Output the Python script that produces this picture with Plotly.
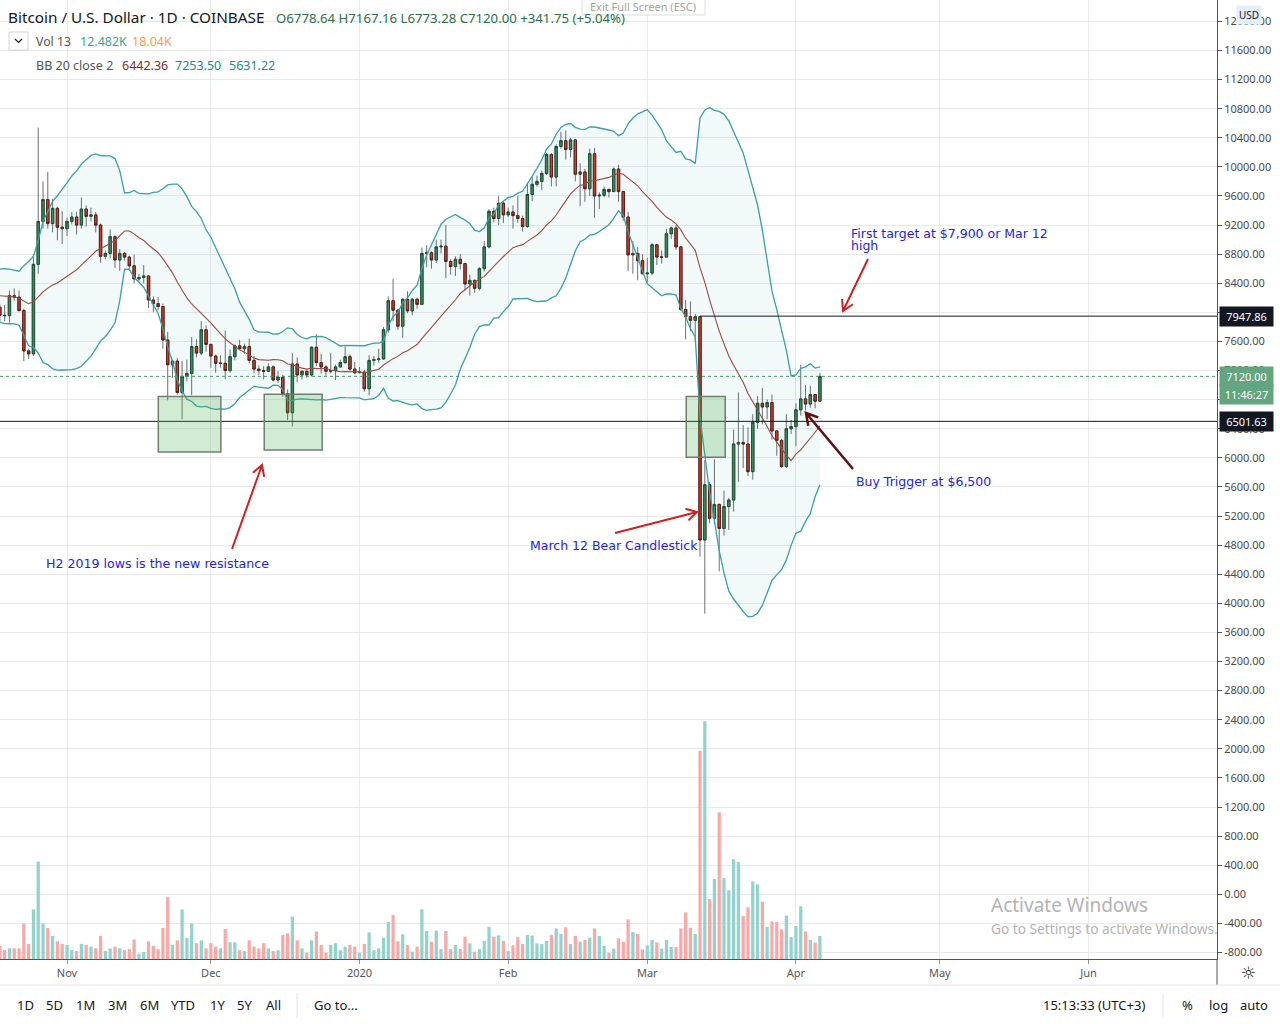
import math
import numpy as np
import pandas as pd
import plotly.graph_objects as go

# ---------------- data (BTC/USD daily, Coinbase) ----------------
dates = pd.date_range("2019-10-18", "2020-04-06", freq="D")

# closes before the first visible day (Sep 29 - Oct 17), used only to warm up the 20-day bands
pre_close = [8050, 8300, 8340, 8390, 8240, 8160, 8150, 7870, 8210, 8180,
             8590, 8590, 8270, 8340, 8300, 8370, 8160, 8000, 8080]

open_ = [
    8070, 7960, 7955, 8230, 8210, 8025, 7470, 7430, 8660, 9250, 9550, 9220, 9430, 9170,
    9150, 9250, 9310, 9200, 9420, 9320, 9340, 9200, 8770, 8810, 9040, 8720, 8810, 8760, 8640,
    8460, 8480, 8500, 8170, 8120, 8080, 7620, 7280, 7330, 6900, 7120, 7160, 7530, 7440, 7760,
    7560, 7400, 7300, 7300, 7200, 7390, 7540, 7500, 7530, 7340, 7220, 7200, 7190, 7250, 7070,
    7110, 6880, 6620, 7290, 7140, 7190, 7140, 7520, 7310, 7250, 7190, 7200, 7250, 7310, 7390, 7220,
    7170, 7180, 6950, 7340, 7350, 7360, 7760, 8160, 8030, 7810, 8180, 8020, 8180, 8110, 8810,
    8820, 8720, 8900, 8910, 8700, 8630, 8730, 8670, 8390, 8440, 8330, 8600, 8900, 9390, 9290, 9500,
    9340, 9380, 9330, 9290, 9180, 9620, 9760, 9800, 9910, 10170, 9860, 10280, 10360, 10240, 10370,
    9900, 9930, 9700, 10180, 9600, 9610, 9690, 9660, 9970, 9660, 9310, 8790, 8810, 8710,
    8530, 8540, 8930, 8760, 8760, 9080, 9160, 8900, 8040, 7940, 7890, 7940, 4870, 5630, 5170,
    5360, 5030, 5330, 5420, 6190, 6210, 6190, 5810, 6490, 6750, 6700, 6760, 6370, 6240, 5880, 6400,
    6430, 6660, 6810, 6740, 6870, 6778.64]

high = [
    8110, 8100, 8300, 8330, 8300, 8050, 7500, 8800, 10540, 9800, 9930, 9560, 9450, 9390,
    9300, 9380, 9380, 9580, 9470, 9440, 9380, 9220, 8850, 9140, 9060, 8870, 8830, 8780, 8790,
    8530, 8650, 8510, 8220, 8210, 8120, 7730, 7350, 7370, 7330, 7350, 7660, 7630, 7880, 7820,
    7560, 7420, 7410, 7750, 7490, 7560, 7620, 7570, 7640, 7400, 7270, 7260, 7300, 7270, 7190,
    7140, 6940, 7440, 7380, 7200, 7200, 7530, 7700, 7430, 7270, 7440, 7280, 7350, 7530, 7420, 7320,
    7250, 7210, 7410, 7400, 7500, 7800, 8220, 8460, 8050, 8190, 8290, 8200, 8200, 8890, 8920,
    8840, 9000, 9000, 9200, 8730, 8770, 8800, 8680, 8520, 8450, 8620, 8980, 9420, 9440, 9600, 9530,
    9440, 9470, 9600, 9330, 9780, 9860, 9880, 9950, 10190, 10190, 10310, 10480, 10500, 10400, 10380,
    10050, 9970, 10250, 10260, 9650, 9730, 9700, 9990, 10030, 9660, 9380, 8980, 8900, 8800,
    8750, 8950, 8940, 8850, 9150, 9180, 9200, 8900, 8170, 8150, 7980, 7950, 5970, 5670, 5980,
    5370, 5550, 5450, 6390, 6900, 6450, 6420, 6600, 6850, 6960, 6800, 6870, 6370, 6260, 6600, 6520,
    6750, 7280, 7000, 6990, 6880, 7167.16]

low = [
    7850, 7880, 7860, 8160, 8010, 7330, 7360, 7400, 8530, 9150, 9150, 9100, 8990, 8940,
    9050, 9210, 9070, 9150, 9180, 9250, 9100, 8680, 8730, 8740, 8610, 8570, 8710, 8570, 8400,
    8430, 8400, 8060, 8000, 8030, 7500, 6790, 7100, 6870, 6530, 7050, 6860, 7380, 7410, 7460,
    7240, 7170, 7240, 7080, 7170, 7340, 7490, 7430, 7300, 7160, 7140, 7080, 7180, 7050, 7030,
    6840, 6520, 6430, 7040, 7080, 7100, 7120, 7260, 7160, 7130, 7160, 7070, 7240, 7290, 7200, 7150,
    7170, 6910, 6860, 7270, 7310, 7350, 7720, 7880, 7760, 7650, 7990, 7960, 8050, 8100, 8620,
    8600, 8680, 8810, 8470, 8520, 8500, 8590, 8300, 8230, 8270, 8300, 8560, 8880, 9240, 9200, 9230,
    9310, 9150, 9230, 9110, 9160, 9530, 9730, 9680, 9890, 9730, 9730, 10250, 10100, 10130, 9800,
    9460, 9520, 9600, 9300, 9420, 9580, 9580, 9660, 9520, 9260, 8570, 8530, 8440, 8530,
    8410, 8510, 8650, 8670, 8760, 9010, 8860, 8020, 7630, 7740, 7590, 4640, 3860, 5100, 5090,
    4440, 4930, 5010, 5260, 5670, 5860, 5750, 5700, 6400, 6460, 6530, 6250, 6030, 5860, 5860, 6330,
    6160, 6580, 6650, 6690, 6680, 6773.28]

close = [
    7960, 7955, 8230, 8210, 8025, 7470, 7430, 8660, 9250, 9550, 9220, 9430, 9170, 9150,
    9250, 9310, 9200, 9420, 9320, 9340, 9200, 8770, 8810, 9040, 8720, 8810, 8760, 8640, 8460,
    8480, 8500, 8170, 8120, 8080, 7620, 7280, 7330, 6900, 7120, 7160, 7530, 7440, 7760, 7560,
    7400, 7300, 7300, 7200, 7390, 7540, 7500, 7530, 7340, 7220, 7200, 7190, 7250, 7070, 7110,
    6880, 6620, 7290, 7140, 7190, 7140, 7520, 7310, 7250, 7190, 7200, 7250, 7310, 7390, 7220, 7170,
    7180, 6950, 7340, 7350, 7360, 7760, 8160, 8030, 7810, 8180, 8020, 8180, 8110, 8810, 8820,
    8720, 8900, 8910, 8700, 8630, 8730, 8670, 8390, 8440, 8330, 8600, 8900, 9390, 9290, 9500, 9340,
    9380, 9330, 9290, 9180, 9620, 9760, 9800, 9910, 10170, 9860, 10280, 10360, 10240, 10370, 9900,
    9930, 9700, 10180, 9600, 9610, 9690, 9660, 9970, 9660, 9310, 8790, 8810, 8710, 8530,
    8540, 8930, 8760, 8760, 9080, 9160, 8900, 8040, 7940, 7890, 7940, 4870, 5630, 5170, 5360,
    5030, 5330, 5420, 6190, 6210, 6190, 5810, 6490, 6750, 6700, 6760, 6370, 6240, 5880, 6400, 6430,
    6660, 6810, 6740, 6870, 6778.64, 7120.00]

# volume in thousands of BTC
volume_k = [
    7.0, 4.8, 5.8, 5.8, 5.8, 19.2, 8.2, 26.9, 52.8, 19.2, 16.8, 12.5, 9.6, 8.2,
    7.7, 4.8, 4.3, 8.2, 7.7, 6.7, 5.8, 12.5, 4.3, 5.8, 6.7, 5.8, 4.8, 5.3, 10.6,
    2.9, 3.8, 9.6, 7.2, 5.3, 16.8, 33.6, 7.7, 10.1, 26.9, 11.5, 19.2, 8.6, 10.1, 5.8,
    8.6, 6.7, 5.8, 16.3, 9.1, 9.1, 4.8, 4.3, 10.1, 6.7, 5.8, 8.6, 5.8, 4.3, 4.8,
    13.0, 13.9, 23.0, 10.1, 5.8, 3.4, 10.1, 14.9, 7.7, 3.4, 7.7, 8.6, 4.8, 6.7, 7.7, 6.7,
    3.4, 8.2, 14.4, 4.8, 5.8, 11.5, 20.2, 24.0, 9.6, 13.4, 7.6, 4.0, 6.7, 26.9, 15.2,
    9.4, 15.4, 5.4, 15.2, 5.4, 7.6, 5.4, 12.1, 8.5, 4.0, 5.4, 9.8, 17.4, 12.1, 12.8, 9.8,
    4.3, 7.4, 11.8, 8.1, 13.0, 12.7, 8.5, 8.1, 9.8, 13.0, 16.6, 13.6, 17.2, 8.1, 12.5,
    9.4, 10.3, 11.6, 16.6, 12.5, 7.1, 3.4, 5.6, 11.2, 9.4, 21.5, 14.6, 13.6, 5.2,
    7.4, 10.3, 9.0, 5.6, 10.3, 6.5, 6.5, 16.6, 25.3, 17.0, 13.6, 113.0, 129.0, 32.5, 43.4,
    79.6, 43.9, 37.3, 54.2, 52.6, 23.3, 28.0, 42.1, 40.5, 31.1, 17.4, 20.4, 20.1, 16.1, 23.5, 11.9,
    17.9, 28.6, 15.0, 10.3, 8.9, 12.482]

price_ticks = list(range(-800, 12001, 400))
month_ticks = ["2019-11-01", "2019-12-01", "2020-01-01", "2020-02-01",
               "2020-03-01", "2020-04-01", "2020-05-01", "2020-06-01"]
month_labels = ["Nov", "Dec", "2020", "Feb", "Mar", "Apr", "May", "Jun"]

resistance_level = 7947.86
support_level = 6501.63
last_price = 7120.00

# ---------------- indicators ----------------
closes_all = pd.Series(pre_close + close, dtype=float)
n0 = len(pre_close)
basis = closes_all.rolling(20).mean().iloc[n0:].values
sd = closes_all.rolling(20).std(ddof=0).iloc[n0:].values
upper = basis + 2 * sd
lower = basis - 2 * sd

body_hi = [max(o, c) for o, c in zip(open_, close)]
body_lo = [min(o, c) for o, c in zip(open_, close)]
vol_colors = ["#94d3cc" if c >= o else "#f7a9a8" for o, c in zip(open_, close)]

# ---------------- geometry helpers (pixel -> paper) ----------------
W, H = 1217.0, 959.0
def px(x): return x / W
def py(y): return 1 - y / H

fig = go.Figure()

# Bollinger bands
fig.add_trace(go.Scatter(x=dates, y=upper, mode="lines", line=dict(color="#3aa0a0", width=1.3),
                         hoverinfo="skip"))
fig.add_trace(go.Scatter(x=dates, y=lower, mode="lines", line=dict(color="#3aa0a0", width=1.3),
                         fill="tonexty", fillcolor="rgba(40,150,150,0.06)", hoverinfo="skip"))
fig.add_trace(go.Scatter(x=dates, y=basis, mode="lines", line=dict(color="#9c4a45", width=1.1),
                         hoverinfo="skip"))

# candle wicks
fig.add_trace(go.Candlestick(x=dates, open=open_, high=high, low=low, close=close,
                             increasing=dict(line=dict(color="#6e6e70", width=1), fillcolor="#3d8b5c"),
                             decreasing=dict(line=dict(color="#6e6e70", width=1), fillcolor="#d63b2b"),
                             hoverinfo="skip"))
# candle bodies
fig.add_trace(go.Candlestick(x=dates, open=open_, high=body_hi, low=body_lo, close=close,
                             increasing=dict(line=dict(color="#1d4d2e", width=1), fillcolor="#3f8d5e"),
                             decreasing=dict(line=dict(color="#5a1a12", width=1), fillcolor="#d63b2b"),
                             hoverinfo="skip"))

# volume
fig.add_trace(go.Bar(x=dates, y=volume_k, yaxis="y2", marker=dict(color=vol_colors, line=dict(width=0)),
                     width=0.68 * 86400000, hoverinfo="skip"))

fig.update_layout(
    width=1280, height=1024,
    margin=dict(l=0, r=63, t=0, b=65),
    paper_bgcolor="white", plot_bgcolor="white",
    showlegend=False, hovermode=False,
    font=dict(family="Noto Sans", color="#131722"),
    xaxis=dict(type="date", range=["2019-10-18 00:43", "2020-06-27 19:12"],
               rangeslider=dict(visible=False),
               tickvals=month_ticks, ticktext=month_labels,
               showgrid=True, gridcolor="#e9e9ec", gridwidth=1,
               ticks="outside", ticklen=4, tickcolor="#9598a1",
               tickfont=dict(size=11, color="#555"),
               showline=True, linecolor="#50535e", linewidth=1, zeroline=False, fixedrange=True),
    yaxis=dict(side="right", range=[-889.5, 12294],
               tickvals=price_ticks, ticktext=[f"{v:.2f}" for v in price_ticks],
               showgrid=True, gridcolor="#e9e9ec", gridwidth=1,
               ticks="outside", ticklen=4, tickcolor="#50535e",
               tickfont=dict(size=11, color="#4a4a4a"),
               showline=True, linecolor="#50535e", linewidth=1, zeroline=False, fixedrange=True),
    yaxis2=dict(overlaying="y", range=[0, 959 / 1.843], visible=False, fixedrange=True),
)

# ---------------- shapes ----------------
shapes = []
# level lines
shapes.append(dict(type="line", xref="x", yref="y", x0="2020-03-12", x1="2020-08-01",
                   y0=resistance_level, y1=resistance_level, line=dict(color="#131722", width=1)))
shapes.append(dict(type="line", xref="paper", yref="y", x0=0, x1=1,
                   y0=support_level, y1=support_level, line=dict(color="#131722", width=1)))
shapes.append(dict(type="line", xref="paper", yref="y", x0=0, x1=1,
                   y0=last_price, y1=last_price, line=dict(color="#4c9a6a", width=1, dash="dot")))
# green zones
for x0, x1, y0, y1 in [("2019-11-20 01:00", "2019-12-03 02:00", 6081, 6843),
                       ("2019-12-12 03:00", "2019-12-24 05:00", 6108, 6874),
                       ("2020-03-09 03:00", "2020-03-17 06:00", 6008, 6843)]:
    shapes.append(dict(type="rect", xref="x", yref="y", x0=x0, x1=x1, y0=y0, y1=y1,
                       fillcolor="rgba(76,175,80,0.25)", line=dict(color="#6f7f6f", width=1.5),
                       layer="above"))

def arrow(tail, head, color, width, L=12, ang=30):
    tx, ty = tail
    hx, hy = head
    dx, dy = tx - hx, ty - hy
    n = math.hypot(dx, dy)
    ux, uy = dx / n, dy / n
    a = math.radians(ang)
    pts = []
    for s in (1, -1):
        rx = ux * math.cos(s * a) - uy * math.sin(s * a)
        ry = ux * math.sin(s * a) + uy * math.cos(s * a)
        pts.append((hx + L * rx, hy + L * ry))
    path = (f"M {px(tx)},{py(ty)} L {px(hx)},{py(hy)} "
            f"M {px(pts[0][0])},{py(pts[0][1])} L {px(hx)},{py(hy)} L {px(pts[1][0])},{py(pts[1][1])}")
    return dict(type="path", xref="paper", yref="paper", path=path,
                line=dict(color=color, width=width), layer="above")

shapes.append(arrow((232, 549), (262, 465), "#cc2222", 2))
shapes.append(arrow((615, 533), (697, 512), "#cc2222", 2))
shapes.append(arrow((868, 259), (843, 311), "#cc2222", 2))
shapes.append(arrow((853, 469), (806, 413), "#5c1010", 2.5, L=13))

# frame pieces outside the plot
shapes.append(dict(type="line", xref="paper", yref="paper", x0=1, x1=1, y0=py(959), y1=py(985),
                   line=dict(color="#50535e", width=1)))
shapes.append(dict(type="line", xref="paper", yref="paper", x0=0, x1=px(1280), y0=py(985), y1=py(985),
                   line=dict(color="#e0e3eb", width=1)))
for sx in (297, 1163):
    shapes.append(dict(type="line", xref="paper", yref="paper", x0=px(sx), x1=px(sx),
                       y0=py(993), y1=py(1018), line=dict(color="#e0e3eb", width=1)))
# legend chevron box
shapes.append(dict(type="rect", xref="paper", yref="paper", x0=px(9), x1=px(28), y0=py(32), y1=py(50),
                   line=dict(color="#d1d4dc", width=1), fillcolor="white"))
shapes.append(dict(type="path", xref="paper", yref="paper",
                   path=f"M {px(15)},{py(39)} L {px(18.5)},{py(42.5)} L {px(22)},{py(39)}",
                   line=dict(color="#131722", width=1.2)))
# exit full screen box
shapes.append(dict(type="rect", xref="paper", yref="paper", x0=px(582), x1=px(705), y0=py(-2), y1=py(15),
                   line=dict(color="#dcdcdc", width=1), fillcolor="rgba(255,255,255,0.9)"))
fig.update_layout(shapes=shapes)

# ---------------- texts ----------------
def txt(x, y, s, size, color, family="Noto Sans", xanchor="left", **kw):
    fig.add_annotation(x=px(x), y=py(y), xref="paper", yref="paper", text=s, showarrow=False,
                       xanchor=xanchor, yanchor="middle", font=dict(size=size, color=color, family=family),
                       **kw)

txt(6, 17, "Bitcoin / U.S. Dollar · 1D · COINBASE", 15.3, "#131722")
txt(274, 18, "O6778.64 H7167.16 L6773.28 C7120.00 +341.75 (+5.04%)", 13.2, "#2f6f4a")
txt(34, 41, "Vol 13", 12.3, "#555555")
txt(78, 41, "12.482K", 12.5, "#3aa68a")
txt(130, 41, "18.04K", 12.5, "#ff9850")
txt(34, 65, "BB 20 close 2", 12.5, "#555555")
txt(120, 65, "6442.36", 12.5, "#8a2b2b")
txt(173, 65, "7253.50", 12.5, "#1a8a8a")
txt(227, 65, "5631.22", 12.5, "#1a8a8a")
txt(643, 7, "Exit Full Screen (ESC)", 11, "#a3a3a3", xanchor="center")

blue = "#2424e0"
txt(44, 563, "H2 2019 lows is the new resistance", 12.6, blue, family="DejaVu Sans")
txt(528, 545, "March 12 Bear Candlestick", 12.5, blue, family="DejaVu Sans")
txt(849, 233, "First target at $7,900 or Mar 12", 12.5, blue, family="DejaVu Sans")
txt(849, 245, "high", 12.5, blue, family="DejaVu Sans")
txt(854, 481, "Buy Trigger at $6,500", 12.5, blue, family="DejaVu Sans")

txt(989, 905, "Activate Windows", 19, "#b3b3b3")
txt(989, 928, "Go to Settings to activate Windows.", 13.7, "#b3b3b3")

# price axis labels
def price_box(y, s, bg):
    fig.add_annotation(x=px(1219), y=py(y), xref="paper", yref="paper", text=s, showarrow=False,
                       xanchor="left", yanchor="middle", bgcolor=bg, borderpad=2, width=49,
                       align="center", font=dict(size=11, color="white", family="Noto Sans"))

price_box(316.2, "7947.86", "#131722")
price_box(376.4, "7120.00", "#62a57f")
price_box(394.5, "11:46:27", "#62a57f")
price_box(421.4, "6501.63", "#131722")
fig.add_annotation(x=px(1249), y=py(15), xref="paper", yref="paper", text="USD", showarrow=False,
                   xanchor="center", yanchor="middle", bgcolor="#e3effd", borderpad=2,
                   font=dict(size=10, color="#131722", family="Noto Sans"))

# bottom toolbar
for lab, x in [("1D", 17), ("5D", 46), ("1M", 76), ("3M", 108), ("6M", 140), ("YTD", 171),
               ("1Y", 210), ("5Y", 237), ("All", 266), ("Go to...", 314)]:
    txt(x - 2, 1005, lab, 13, "#131722")
txt(1041, 1005, "15:13:33 (UTC+3)", 13, "#131722")
txt(1180, 1005, "%", 13, "#131722")
txt(1207, 1005, "log", 13, "#131722")
txt(1238, 1005, "auto", 13, "#131722")
txt(1248, 973, "☼", 17, "#131722", family="DejaVu Sans", xanchor="center")

fig.write_html("out.html")
